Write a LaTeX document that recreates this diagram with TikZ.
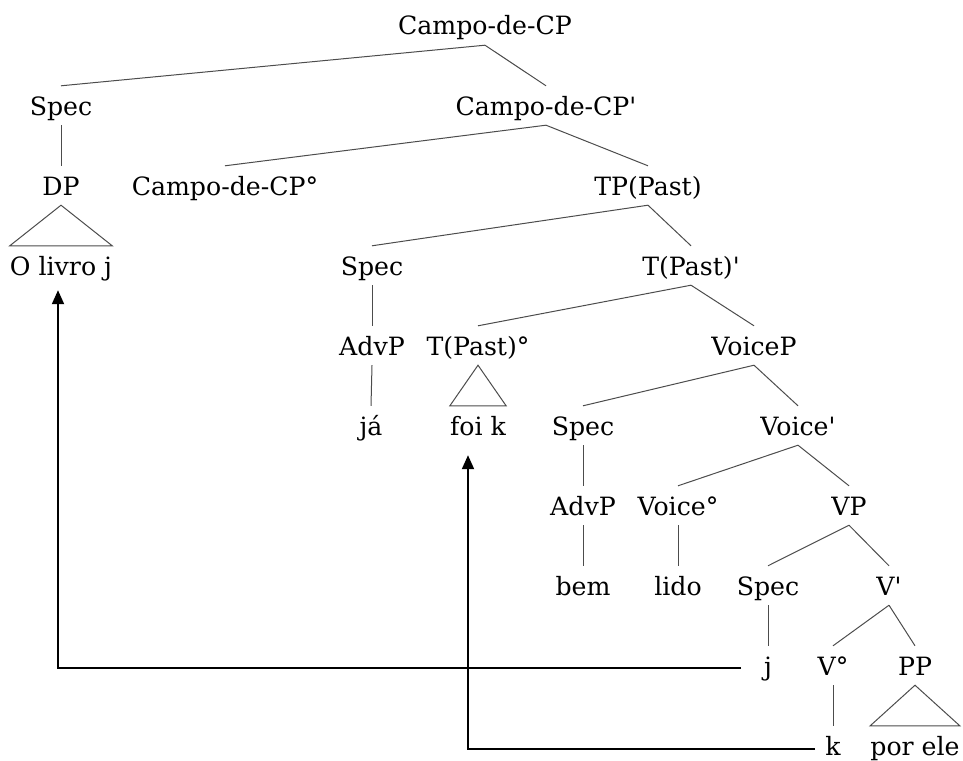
\documentclass[tikz,border=0pt]{standalone}
\usepackage{fontspec}
\newfontfamily\treefont{DejaVu Serif}
\usetikzlibrary{arrows.meta}
\newcommand\prm{\textquotesingle}
\tikzset{
	lbl/.style={anchor=base, inner sep=0pt, text height=29pt, text depth=10pt, font=\treefont\fontsize{25.2}{29}\selectfont},
	branch/.style={black!70, line width=1pt},
	move/.style={black, line width=2pt, -{Triangle[length=14pt,width=12pt]}}
}
\begin{document}
\begin{tikzpicture}[x=1pt, y=-1pt]
\useasboundingbox (0,0) rectangle (963,760);
\foreach \n / \x / \l / \t in {top/485/0/Campo-de-CP, spec1/61/1/Spec, cpbar/546/1/Campo-de-CP\prm,
	dp/61/2/DP, cphead/225/2/Campo-de-CP°, tp/648/2/TP(Past),
	livro/61/3/O livro j, spec2/372/3/Spec, tbar/691/3/T(Past)\prm,
	advp1/372/4/AdvP, thead/478/4/T(Past)°, voicep/754/4/VoiceP,
	ja/371/5/já, foik/478/5/foi k, spec3/583/5/Spec, voicebar/798/5/Voice\prm,
	advp2/583/6/AdvP, voicehead/678/6/Voice°, vp/849/6/VP,
	bem/583/7/bem, lido/678/7/lido, spec4/768/7/Spec, vbar/889/7/V\prm,
	j/768/8/j, vhead/833/8/V°, pp/915/8/PP,
	k/833/9/k, porele/915/9/por ele} {
	\node[lbl] (\n) at (\x, {35+80*\l}) {\t};
}
% branches
\foreach \a / \b in {top/spec1, top/cpbar, spec1/dp, cpbar/cphead, cpbar/tp,
	tp/spec2, tp/tbar, spec2/advp1, advp1/ja, tbar/thead, tbar/voicep,
	voicep/spec3, voicep/voicebar, spec3/advp2, advp2/bem,
	voicebar/voicehead, voicebar/vp, voicehead/lido,
	vp/spec4, vp/vbar, spec4/j, vbar/vhead, vbar/pp, vhead/k} {
	\draw[branch] (\a.south) -- (\b.north);
}
% triangles
\foreach \a / \b in {dp/livro, thead/foik, pp/porele} {
	\draw[branch] (\a.south) -- (\b.north west) -- (\b.north east) -- cycle;
}
% movement
\draw[move] ([xshift=-27pt,yshift=7pt]j.base) -| ([xshift=-3pt,yshift=-5pt]livro.south);
\draw[move] ([xshift=-18pt,yshift=6pt]k.base) -| ([xshift=-10pt,yshift=-10pt]foik.south);
\end{tikzpicture}
\end{document}
